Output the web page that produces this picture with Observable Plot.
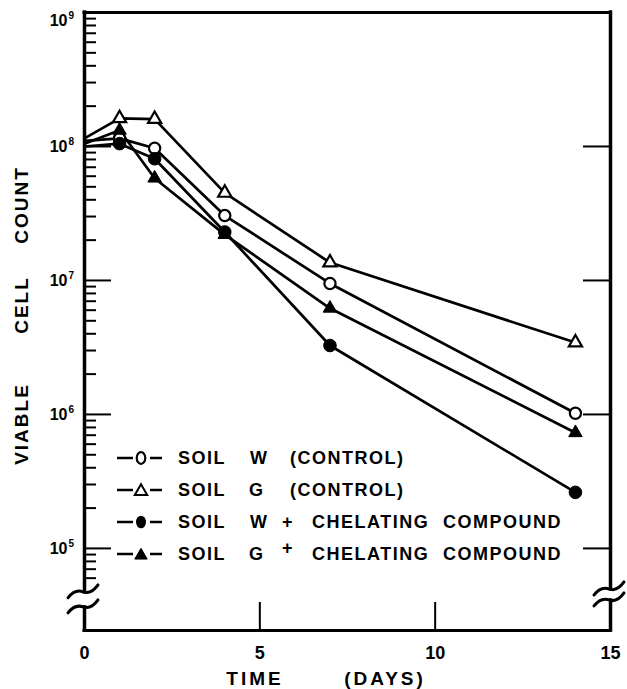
<!DOCTYPE html>
<html>
<head>
<meta charset="utf-8">
<script src="https://cdn.jsdelivr.net/npm/d3@7"></script>
<script src="https://cdn.jsdelivr.net/npm/@observablehq/plot@0.6"></script>
<style>
  body { margin: 0; background: #fff; }
  svg { display: block; }
</style>
</head>
<body>
<div id="chart"></div>
<script>
// ---- Data ----
const days = [0, 1, 2, 4, 7, 14];
const soilWControl = [1.10e8, 1.15e8, 9.7e7, 3.05e7, 9.5e6, 1.02e6];
const soilGControl = [1.15e8, 1.62e8, 1.60e8, 4.5e7, 1.36e7, 3.44e6];
const soilWChelate = [1.00e8, 1.05e8, 8.1e7, 2.3e7, 3.27e6, 2.62e5];
const soilGChelate = [1.05e8, 1.32e8, 5.8e7, 2.2e7, 6.2e6, 7.3e5];

const seriesKeys = ["wc", "gc", "wch", "gch"];
const legendWords = [
  ["SOIL", "W", "(CONTROL)"],
  ["SOIL", "G", "(CONTROL)"],
  ["SOIL", "W", "+", "CHELATING", "COMPOUND"],
  ["SOIL", "G", "+", "CHELATING", "COMPOUND"]
];
const xTicks = [0, 5, 10, 15];
const yDecades = [1e5, 1e6, 1e7, 1e8, 1e9];
const yExponents = ["5", "6", "7", "8", "9"];
const xTitleWords = ["TIME", "(DAYS)"];
const yTitleWords = ["VIABLE", "CELL", "COUNT"];

// ---- Table ----
const valuesByKey = { wc: soilWControl, gc: soilGControl, wch: soilWChelate, gch: soilGChelate };
const rows = seriesKeys.flatMap(k => days.map((d, i) => ({ series: k, day: d, count: valuesByKey[k][i] })));
const pts = k => rows.filter(r => r.series === k && r.day > 0);

// ---- Layout ----
const W = 627, H = 689;
const mL = 84, mR = 17, mT = 12, mB = 59;
const yMin = 2.44e4, yMax = 1e9;
const pxPerDay = (W - mL - mR) / 15;
const pxPerDec = (H - mT - mB) / Math.log10(yMax / yMin);
const dDay = px => px / pxPerDay;
const upY = (v, px) => v * Math.pow(10, px / pxPerDec);

// minor ticks (2..9 within each decade) from the decade ticks
const yMinor = [];
[1e4, ...yDecades.slice(0, 4)].forEach(dec => {
  for (let m = 2; m <= 9; m++) {
    const v = dec * m;
    if (v > 5.5e4 && v < yMax) yMinor.push(v);
  }
});

// axis breaks (value pairs on left and right axes)
const breakL = [4.70e4, 3.63e4];
const breakR = [4.94e4, 4.09e4];

const font = "'Liberation Sans', Arial, sans-serif";

const plot = Plot.plot({
  width: W, height: H,
  marginLeft: mL, marginRight: mR, marginTop: mT, marginBottom: mB,
  style: { fontFamily: font, background: "#fff", color: "#000", overflow: "visible" },
  x: { domain: [0, 15], axis: null },
  y: { type: "log", domain: [yMin, yMax], axis: null },
  marks: [
    // frame
    Plot.ruleY([yMax], { x1: 0, x2: 15, stroke: "#000", strokeWidth: 3, strokeLinecap: "square" }),
    Plot.ruleY([yMin], { x1: 0, x2: 15, stroke: "#000", strokeWidth: 3, strokeLinecap: "square" }),
    Plot.ruleX([{ y1: yMax, y2: breakL[0] }, { y1: breakL[1], y2: yMin }], { x: 0, y1: "y1", y2: "y2", stroke: "#000", strokeWidth: 3.5, strokeLinecap: "square" }),
    Plot.ruleX([{ y1: yMax, y2: breakR[0] }, { y1: breakR[1], y2: yMin }], { x: 15, y1: "y1", y2: "y2", stroke: "#000", strokeWidth: 3.5, strokeLinecap: "square" }),
    // ticks
    Plot.ruleY(yMinor, { y: d => d, x1: 0, x2: dDay(12), stroke: "#000", strokeWidth: 2 }),
    Plot.ruleY(yDecades.slice(0, 4), { y: d => d, x1: 0, x2: dDay(27), stroke: "#000", strokeWidth: 2 }),
    Plot.ruleY(yDecades.slice(0, 4), { y: d => d, x1: 15 - dDay(27), x2: 15, stroke: "#000", strokeWidth: 2 }),
    Plot.ruleX(xTicks.slice(1, 3), { x: d => d, y1: yMin, y2: upY(yMin, 28), stroke: "#000", strokeWidth: 2 }),
    // tick labels
    Plot.text(yDecades.slice(0, 4), { x: 0, y: d => d, text: d => "10", dx: -17, textAnchor: "end", fontSize: 16, fontWeight: "bold", fill: "#000" }),
    Plot.text(yDecades.slice(4), { x: 0, y: d => d, text: d => "10", dx: -17, dy: 8, textAnchor: "end", fontSize: 16, fontWeight: "bold", fill: "#000" }),
    Plot.text(yDecades.slice(0, 4), { x: 0, y: d => d, text: (d, i) => yExponents[i], dx: -16, dy: -5, textAnchor: "start", fontSize: 10, fontWeight: "bold", fill: "#000" }),
    Plot.text(yDecades.slice(4), { x: 0, y: d => d, text: d => yExponents[4], dx: -16, dy: 3, textAnchor: "start", fontSize: 10, fontWeight: "bold", fill: "#000" }),
    Plot.text(xTicks, { x: d => d, y: yMin, text: d => String(d), dy: 23, fontSize: 18, fontWeight: "bold", fill: "#000" }),
    // data lines
    Plot.line(rows, { x: "day", y: "count", z: "series", stroke: "#000", strokeWidth: 2.7 }),
    // markers
    Plot.dot(pts("wc"), { x: "day", y: "count", r: 5.6, fill: "#fff", stroke: "#000", strokeWidth: 2.2 }),
    Plot.dot(pts("gc"), { x: "day", y: "count", symbol: "triangle", r: 4.9, fill: "#fff", stroke: "#000", strokeWidth: 2.2 }),
    Plot.dot(pts("wch"), { x: "day", y: "count", r: 6.3, fill: "#000", stroke: "#000", strokeWidth: 1 }),
    Plot.dot(pts("gch"), { x: "day", y: "count", symbol: "triangle", r: 5.0, fill: "#000", stroke: "#000", strokeWidth: 1 })
  ]
});

document.getElementById("chart").appendChild(plot);

// ---- Decorations using the plot's scales ----
const sx = plot.scale("x"), sy = plot.scale("y");
const svg = d3.select(plot);

// axis break squiggles
const squiggle = (cx, cy) => `M${cx - 16},${cy + 6} Q${cx - 9},${cy - 3} ${cx - 1},${cy} T${cx + 14},${cy - 7}`;
const breaks = [
  [sx.apply(0), sy.apply(breakL[0])], [sx.apply(0), sy.apply(breakL[1])],
  [sx.apply(15), sy.apply(breakR[0])], [sx.apply(15), sy.apply(breakR[1])]
];
svg.append("g").selectAll("path").data(breaks).join("path")
  .attr("d", d => squiggle(d[0], d[1]))
  .attr("fill", "none").attr("stroke", "#000").attr("stroke-width", 3).attr("stroke-linecap", "round");

// axis titles
const titleFont = { family: font, size: 19, weight: "bold" };
const yTitlePos = [424, 305, 205];
svg.append("g").selectAll("text").data(yTitleWords).join("text")
  .attr("transform", (d, i) => `translate(21,${yTitlePos[i]}) rotate(-90)`)
  .attr("text-anchor", "middle").attr("dy", "0.36em")
  .attr("font-family", titleFont.family).attr("font-size", titleFont.size).attr("font-weight", titleFont.weight)
  .attr("letter-spacing", 2).text(d => d);

const xTitlePos = [255, 385];
svg.append("g").selectAll("text").data(xTitleWords).join("text")
  .attr("x", (d, i) => xTitlePos[i]).attr("y", 678)
  .attr("text-anchor", "middle").attr("dy", "0.36em")
  .attr("font-family", titleFont.family).attr("font-size", titleFont.size).attr("font-weight", titleFont.weight)
  .attr("letter-spacing", 3).text(d => d);

// legend
const rowY = [458, 490, 522, 554];
const wordX = {
  "SOIL": 178, "W": 250, "G": 249, "(CONTROL)": 290, "+": 282, "CHELATING": 312, "COMPOUND": 443
};
const lg = svg.append("g").attr("font-family", font).attr("font-size", 18).attr("font-weight", "bold")
  .attr("fill", "#000").attr("text-anchor", "start");
seriesKeys.forEach((k, i) => {
  const y = rowY[i];
  const g = lg.append("g");
  g.append("line").attr("x1", 117).attr("x2", 133).attr("y1", y).attr("y2", y).attr("stroke", "#000").attr("stroke-width", 2.5);
  g.append("line").attr("x1", 150).attr("x2", 162).attr("y1", y).attr("y2", y).attr("stroke", "#000").attr("stroke-width", 2.5);
  const cx = 141;
  if (k === "wc") {
    g.append("ellipse").attr("cx", cx).attr("cy", y).attr("rx", 4.3).attr("ry", 5.8).attr("fill", "#fff").attr("stroke", "#000").attr("stroke-width", 2.2);
  } else if (k === "wch") {
    g.append("ellipse").attr("cx", cx).attr("cy", y).attr("rx", 5).attr("ry", 6.3).attr("fill", "#000");
  } else {
    const filled = k === "gch";
    g.append("path").attr("transform", `translate(${cx},${y + 1.5})`)
      .attr("d", d3.symbol(d3.symbolTriangle, Math.PI * 4.6 * 4.6)())
      .attr("fill", filled ? "#000" : "#fff").attr("stroke", "#000").attr("stroke-width", filled ? 1 : 2);
  }
  legendWords[i].forEach(w => {
    const raised = (w === "+" && k === "gch");
    g.append("text").attr("x", wordX[w]).attr("y", raised ? y - 6 : y).attr("dy", "0.36em")
      .attr("text-anchor", "start").attr("letter-spacing", 1.5).text(w);
  });
});
</script>
</body>
</html>
